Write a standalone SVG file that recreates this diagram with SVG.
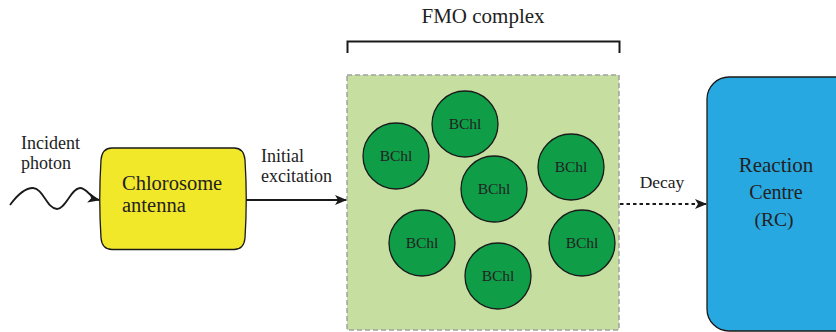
<svg xmlns="http://www.w3.org/2000/svg" width="836" height="332" viewBox="0 0 836 332">
<style>
text{font-family:"Liberation Serif","Times New Roman",serif;fill:#222}
.lbl{font-size:18px}
.b{font-size:15.5px;text-anchor:middle}
.bchl circle{fill:#0F9D48;stroke:#1a1a1a;stroke-width:1.3}
.line{fill:none;stroke:#1a1a1a;stroke-width:1.8}
</style>
<defs>
<marker id="ah" viewBox="0 0 12 10" refX="11" refY="5" markerWidth="12" markerHeight="10" markerUnits="userSpaceOnUse" orient="auto">
<path d="M0,0 L12,5 L0,10 L3,5 Z" fill="#1a1a1a"/>
</marker>
</defs>
<g id="fmo-label">
<text x="483" y="23" style="font-size:21px" text-anchor="middle">FMO complex</text>
<path d="M347.5,53 V41.5 H619.5 V53" fill="none" stroke="#1a1a1a" stroke-width="2"/>
</g>
<g id="fmo">
<rect x="347" y="75" width="272" height="255" fill="#C6DFA1" stroke="#A3A3A3" stroke-width="1.5" stroke-dasharray="5,3"/>
</g>
<g id="bchl1" class="bchl"><circle cx="396" cy="156" r="33"/><text class="b" x="396" y="161">BChl</text></g>
<g id="bchl2" class="bchl"><circle cx="465" cy="124" r="33"/><text class="b" x="465" y="129">BChl</text></g>
<g id="bchl3" class="bchl"><circle cx="494" cy="189" r="33"/><text class="b" x="494" y="194">BChl</text></g>
<g id="bchl4" class="bchl"><circle cx="571" cy="167" r="33"/><text class="b" x="571" y="172">BChl</text></g>
<g id="bchl5" class="bchl"><circle cx="422" cy="243" r="33"/><text class="b" x="422" y="248">BChl</text></g>
<g id="bchl6" class="bchl"><circle cx="498" cy="276" r="33"/><text class="b" x="498" y="281">BChl</text></g>
<g id="bchl7" class="bchl"><circle cx="582" cy="243" r="33"/><text class="b" x="582" y="248">BChl</text></g>
<g id="chlorosome">
<path d="M112,148 H234 Q244,148 245,160 Q247.5,199 245,238 Q244,249.5 234,249.5 H112 Q102,249.5 101,238 Q98.5,199 101,160 Q102,148 112,148 Z" fill="#F2E82A" stroke="#1a1a1a" stroke-width="1.3"/>
<text x="122" y="190" style="font-size:20.5px">Chlorosome</text>
<text x="122" y="212" style="font-size:20.5px">antenna</text>
</g>
<g id="rc">
<rect x="707" y="77" width="150" height="254" rx="22" ry="22" fill="#28A8E0" stroke="#1a1a1a" stroke-width="1.3"/>
<text x="776" y="172" style="font-size:21px" text-anchor="middle">Reaction</text>
<text x="776" y="199" style="font-size:20px" text-anchor="middle">Centre</text>
<text x="774" y="226" style="font-size:19.5px" text-anchor="middle">(RC)</text>
</g>
<g id="connectors">
<path class="line" d="M10,205 C18,194 25,188 33,188 C43,188 47,209 57,209 C66,209 71,188 80,188 C87,188 90,198 99,200" stroke-width="1.4" marker-end="url(#ah)"/>
<line class="line" x1="246" y1="200" x2="346" y2="200" marker-end="url(#ah)"/>
<line class="line" x1="620" y1="204" x2="706" y2="204" stroke-width="1.4" stroke-dasharray="3.5,3" marker-end="url(#ah)"/>
</g>
<g id="labels">
<text class="lbl" x="21" y="149">Incident</text>
<text class="lbl" x="21" y="169">photon</text>
<text class="lbl" x="261" y="162">Initial</text>
<text class="lbl" x="261" y="182">excitation</text>
<text x="662" y="188" style="font-size:17.5px" text-anchor="middle">Decay</text>
</g>
</svg>
